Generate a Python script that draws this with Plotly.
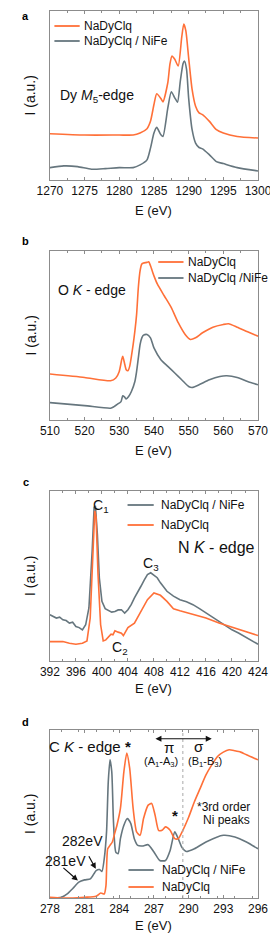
import plotly.graph_objects as go

# ---------------- data (arbitrary units) ----------------
# Panel a : Dy M5-edge
a_x_orange = [1270, 1275, 1280, 1282, 1283, 1284, 1284.5, 1285, 1285.4, 1286, 1286.3, 1287, 1287.3,
              1287.6, 1288, 1288.5, 1289, 1289.3, 1289.6, 1290, 1290.5, 1291, 1291.5, 1292, 1293,
              1294, 1295, 1297, 1300]
a_y_orange = [46, 44.7, 44.7, 44.7, 46.7, 51, 58.3, 75, 85.7, 81, 77.7, 96.7, 115,
              123.3, 120, 113.3, 141.7, 155, 148.3, 121.7, 90, 73.3, 66.7, 65, 58.3,
              50, 46.7, 43.3, 41.7]
a_x_gray = [1270, 1272, 1274, 1276, 1278, 1280, 1282, 1283, 1284, 1284.5, 1285, 1285.4, 1286, 1286.3,
            1287, 1287.5, 1288, 1288.4, 1288.8, 1289.2, 1289.4, 1289.7, 1290, 1290.5, 1291, 1291.5,
            1292, 1293, 1294, 1295, 1297, 1300]
a_y_gray = [12.3, 14, 13.3, 10.7, 11.3, 12.3, 12.3, 15, 20, 31.7, 46.7, 52.3, 45, 43.3,
            71.7, 87.7, 81.7, 77.3, 98.3, 115.7, 118.3, 110, 81.7, 50, 36.7, 32.3,
            31, 25, 18.3, 16.3, 12.3, 9]

# Panel b : O K-edge
b_x_orange = [510, 520, 527.5, 529, 530, 530.7, 531, 531.5, 532, 532.5, 533, 533.5, 534, 534.5, 535,
              535.5, 536, 536.5, 537, 538, 538.5, 539, 540, 541, 543, 545, 547, 549, 550.5, 552,
              554, 557, 560, 561.5, 564, 567, 570]
b_y_orange = [45.7, 42.3, 39, 41.7, 48.3, 60, 63.3, 56.7, 50, 49, 53.3, 63.3, 75, 88.3, 105,
              131.7, 148.3, 155, 156, 156.7, 157.3, 153.3, 143.3, 135, 123.3, 111.7, 96.7, 85, 80, 81.7,
              86.7, 92.3, 95, 95.7, 92.3, 87.7, 83.3]
b_x_gray = [510, 520, 527.5, 528.5, 529.5, 530.5, 531, 531.5, 532, 532.7, 533.5, 534.5, 535, 535.5,
            536, 536.5, 537, 538, 539, 540, 542, 544, 546, 548, 550, 551, 553, 556, 559, 561,
            564, 567, 570]
b_y_gray = [17.3, 14.3, 11.7, 13.3, 15.7, 18.3, 24, 23, 21, 23.3, 28.3, 38.3, 48.3, 61.7,
            75, 81.7, 84.3, 85, 81.7, 71.7, 60, 53.3, 46.7, 40, 33.3, 32.3, 35, 40, 43.3, 44,
            42.3, 38.3, 35]

# Panel c : N K-edge
c_x_gray = [392, 392.5, 393, 393.5, 394, 394.5, 395, 395.5, 396, 396.5, 397, 397.5, 398, 398.5, 398.8,
            399, 399.3, 399.6, 400, 400.5, 401, 401.5, 402, 402.5, 403, 403.5, 404, 404.5, 405,
            405.5, 406, 406.5, 407, 407.5, 408, 408.5, 409, 409.5, 410, 411, 412, 413, 414, 415,
            416, 417, 418, 419, 420, 421, 422, 423, 424]
c_y_gray = [46, 44, 42.7, 43.5, 41, 40.2, 37.7, 38.5, 34.3, 33.2, 31, 36, 52.7, 109.3, 152.7,
            154.3, 126, 82.7, 59.3, 52, 50, 48.6, 49.3, 50.8, 51, 47.7, 51, 56, 62.7,
            68, 74.3, 80.5, 86, 87.7, 85.3, 82.8, 77.7, 73.5, 69.3, 64.5, 61, 58.8, 56, 52,
            47.7, 43.8, 39.3, 35.5, 31, 27.8, 24.3, 20.8, 16.7]
c_x_orange = [392, 394, 395, 396, 397, 397.7, 398.2, 398.6, 398.9, 399.1, 399.4, 399.8, 400.2, 400.6,
              401, 401.4, 401.7, 402, 402.5, 403, 403.3, 403.7, 404, 405, 406, 407, 408, 409, 410,
              411, 412, 414, 416, 418, 420, 422, 424]
c_y_orange = [19.3, 19.3, 17.7, 16.7, 17.7, 20, 42.7, 109.3, 149.3, 142.7, 86, 36, 20, 21,
              24.3, 26.7, 26, 30, 28.7, 27.7, 25.3, 29.3, 33.3, 37.7, 49.3, 61, 67.7, 65.3, 59.3,
              52, 50, 46.7, 42.7, 37.7, 33.3, 29.3, 25.3]

# Panel d : C K-edge
d_x_gray = [278, 279, 279.5, 280, 280.5, 281, 281.5, 282, 282.3, 282.5, 282.7, 282.9, 283.05, 283.2,
            283.35, 283.5, 283.7, 283.9, 284.1, 284.4, 284.7, 285, 285.3, 285.6, 286, 286.5, 287,
            287.5, 288, 288.4, 288.8, 289.1, 289.4, 289.8, 290.5, 291.5, 293, 294, 295, 296]
d_y_gray = [0, 0.7, 4, 9.7, 15.7, 18, 19, 27.3, 28.3, 26.3, 39, 65.7, 115.7, 137.3,
            125.7, 75.7, 45.7, 44, 59, 72.3, 79, 74, 59, 52.3, 51.7, 53, 45.7,
            37.3, 37.3, 47.3, 65.7, 59, 50.7, 46.3, 49, 55.7, 62.3, 60.7, 55.7, 49]
d_x_orange = [278, 279, 280, 281, 282, 282.4, 282.7, 282.85, 283, 283.2, 283.4, 283.6, 283.8, 284.1,
              284.4, 284.65, 284.9, 285.2, 285.5, 285.8, 286.1, 286.5, 286.8, 287.1, 287.4, 287.7,
              288, 288.4, 288.8, 289.1, 289.5, 290, 290.5, 291, 291.5, 292, 292.5, 293, 293.5,
              294, 294.5, 295, 296]
d_y_orange = [0.7, 0, 0, 0.7, 1.7, 5, 4, 12.3, 49, 52.3, 55.7, 64, 72.3, 89,
              125.7, 144, 129, 89, 65.7, 62.3, 79, 92.3, 94, 82.3, 67.3, 67.3,
              70.7, 67.3, 59, 59, 67.3, 80.3, 95.7, 109, 122.3, 132.3, 140.7, 145, 147.3,
              146.3, 145, 142.3, 137.3]

x_ranges = [[1270, 1300], [510, 570], [392, 424], [278, 296]]
x_dticks = [5, 10, 4, 3]
y_ranges = [[0, 168], [0, 168], [0, 169], [0, 167]]
name_a = "NaDyClq"
name_b = "NaDyClq / NiFe"
name_b2 = "NaDyClq /NiFe"

ORANGE = "#FF7038"
GRAY = "#66767E"
TXT = "#111111"
FONT = "Liberation Sans, Arial, sans-serif"
W, H = 278, 933

fig = go.Figure()

def px_y(top, bottom):
    return [1 - bottom / H, 1 - top / H]

x_dom = [32 / W, 262.5 / W]
y_doms = [px_y(3, 172), px_y(243, 412), px_y(483, 653), px_y(722, 890)]

panels = [
    (a_x_orange, a_y_orange, a_x_gray, a_y_gray, name_b, "orange_first", "spline"),
    (b_x_orange, b_y_orange, b_x_gray, b_y_gray, name_b2, "orange_first", "spline"),
    (c_x_orange, c_y_orange, c_x_gray, c_y_gray, name_b, "gray_first", "linear"),
    (d_x_orange, d_y_orange, d_x_gray, d_y_gray, name_b, "gray_first", "spline"),
]

# legend placement (line start px, line end px, text start px, first row y px, second row y px)
legend_px = [(37, 65, 68, 18, 33), (152, 180, 183, 254, 270), (118, 147, 153, 497, 517),
             (119, 147, 154, 862, 879)]

shapes = []
annotations = []

for i, (xo, yo, xg, yg, gname, order, shape) in enumerate(panels):
    n = "" if i == 0 else str(i + 1)
    xa, ya = "x" + n, "y" + n
    tr_o = go.Scatter(x=xo, y=yo, mode="lines", name=name_a, xaxis=xa, yaxis=ya, showlegend=False,
                      line=dict(color=ORANGE, width=1.6, shape=shape, smoothing=0.6))
    tr_g = go.Scatter(x=xg, y=yg, mode="lines", name=gname, xaxis=xa, yaxis=ya, showlegend=False,
                      line=dict(color=GRAY, width=1.6, shape=shape, smoothing=0.6))
    if order == "orange_first":
        fig.add_trace(tr_o); fig.add_trace(tr_g)
        rows = [(name_a, ORANGE), (gname, GRAY)]
    else:
        fig.add_trace(tr_g); fig.add_trace(tr_o)
        rows = [(gname, GRAY), (name_a, ORANGE)]

    axis_common = dict(showline=True, linecolor="#8c8c8c", linewidth=1, mirror="allticks",
                       showgrid=False, zeroline=False)
    fig.layout["xaxis" + n] = dict(
        domain=x_dom, anchor=ya, range=x_ranges[i], dtick=x_dticks[i], tick0=x_ranges[i][0],
        ticks="inside", ticklen=3, tickcolor="#8c8c8c",
        minor=dict(ticks="inside", ticklen=2, dtick=x_dticks[i] / 2, tickcolor="#8c8c8c"),
        tickfont=dict(family=FONT, size=12, color=TXT), **axis_common)
    fig.layout["yaxis" + n] = dict(
        domain=y_doms[i], anchor=xa, range=y_ranges[i], ticks="", showticklabels=False,
        **axis_common)

    l0, l1, tx, r1, r2 = legend_px[i]
    for (label, col), ry in zip(rows, [r1, r2]):
        shapes.append(dict(type="line", xref="paper", yref="paper", x0=l0 / W, x1=l1 / W,
                           y0=1 - ry / H, y1=1 - ry / H, line=dict(color=col, width=1.8)))
        annotations.append(dict(text=label, x=tx / W, y=1 - ry / H, xref="paper", yref="paper",
                                showarrow=False, xanchor="left", yanchor="middle",
                                font=dict(family=FONT, size=12, color=TXT)))

# panel letters and axis titles
letters = [("a", 8), ("b", 233), ("c", 474), ("d", 714)]
for t, y in letters:
    annotations.append(dict(text="<b>%s</b>" % t, x=5 / W, y=1 - y / H, xref="paper", yref="paper",
                            showarrow=False, xanchor="center", yanchor="middle",
                            font=dict(family=FONT, size=11, color="#000")))
xt_y = [202, 442, 680, 917]
yt_y = [(3 + 172) / 2, (243 + 412) / 2, (483 + 653) / 2, (722 + 890) / 2]
for i in range(4):
    annotations.append(dict(text="E (eV)", x=147 / W, y=1 - xt_y[i] / H, xref="paper", yref="paper",
                            showarrow=False, xanchor="center", yanchor="middle",
                            font=dict(family=FONT, size=13, color=TXT)))
    annotations.append(dict(text="I (a.u.)", x=10 / W, y=1 - yt_y[i] / H, xref="paper", yref="paper",
                            showarrow=False, xanchor="center", yanchor="middle", textangle=-90,
                            font=dict(family=FONT, size=14, color=TXT)))

def note(text, x, y, n, size=14, xanchor="center"):
    annotations.append(dict(text=text, x=x, y=y, xref="x" + n, yref="y" + n, showarrow=False,
                            xanchor=xanchor, yanchor="middle",
                            font=dict(family=FONT, size=size, color=TXT)))

note("Dy <i>M</i><sub>5</sub>-edge", 1276.8, 83.3, "", 14)
note("O <i>K</i> - edge", 522.1, 129, "2", 14)
note("N <i>K</i> - edge", 417.6, 112.7, "3", 16)
note("C<sub>1</sub>", 399.85, 154.3, "3", 14)
note("C<sub>2</sub>", 402.85, 12.7, "3", 14)
note("C<sub>3</sub>", 407.56, 96, "3", 14)
note("C <i>K</i> - edge <b>*</b>", 281.5, 150.7, "4", 15)
note("π", 288.31, 150, "4", 15)
note("(A<sub>1</sub>-A<sub>3</sub>)", 287.61, 135.2, "4", 11)
note("σ", 290.86, 150.5, "4", 15)
note("(B<sub>1</sub>-B<sub>3</sub>)", 291.45, 135.2, "4", 11)
note("<b>*</b>", 288.78, 82.3, "4", 15)
note("*3rd order", 295.5, 90.7, "4", 12, "right")
note("Ni peaks", 295.5, 77.3, "4", 12, "right")
note("282eV", 280.86, 56.3, "4", 14)
note("281eV", 279.38, 36.7, "4", 14)

# arrows
def arrow(x, y, ax, ay, n, side="end"):
    annotations.append(dict(text="", x=x, y=y, ax=ax, ay=ay, xref="x" + n, yref="y" + n,
                            axref="x" + n, ayref="y" + n, showarrow=True, arrowhead=2,
                            arrowsize=1, arrowwidth=1.2, arrowcolor="#111", arrowside=side,
                            standoff=0, startstandoff=0))

arrow(292.0, 158.3, 287.0, 158.3, "4", "end+start")
arrow(281.97, 29, 281.3, 43, "4")
arrow(280.42, 17.3, 279.04, 31.3, "4")

shapes.append(dict(type="line", x0=289.5, x1=289.5, y0=0, y1=1, xref="x4", yref="y4 domain",
                   line=dict(color="#a8a8a8", width=1, dash="dot")))

fig.update_layout(
    annotations=annotations,
    shapes=shapes,
    width=W, height=H, margin=dict(l=0, r=0, t=0, b=0),
    paper_bgcolor="white", plot_bgcolor="white", showlegend=False,
    font=dict(family=FONT, size=12, color=TXT),
)

fig.write_html("out.html")
